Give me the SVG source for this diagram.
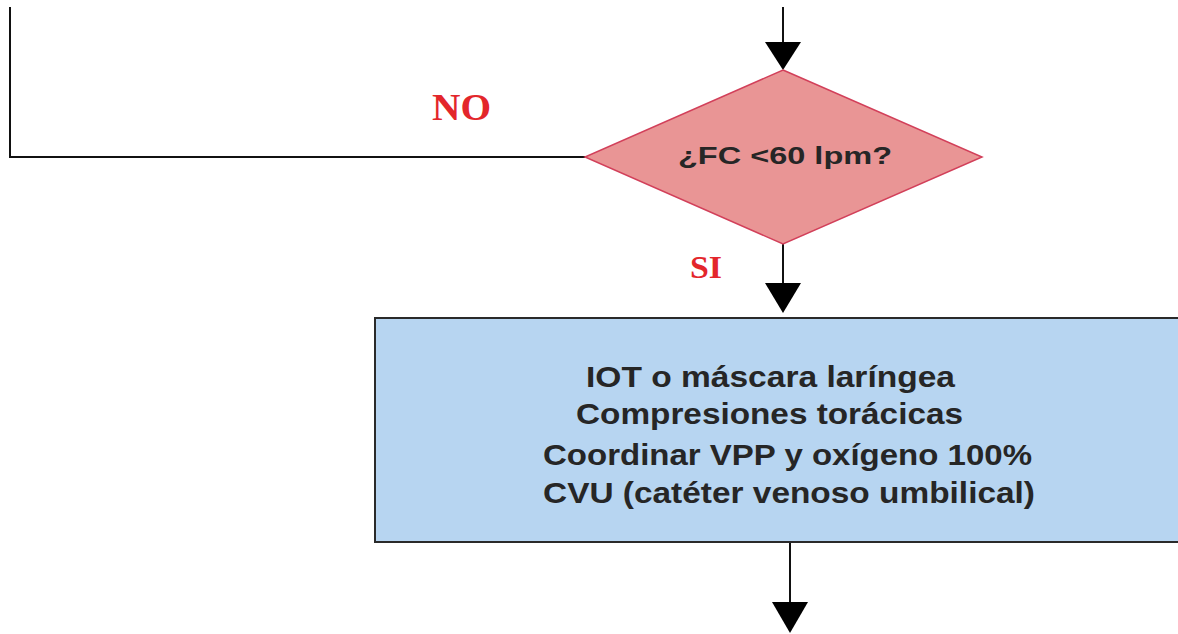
<svg xmlns="http://www.w3.org/2000/svg" width="1178" height="634" viewBox="0 0 1178 634">
<style>
.conn{stroke:#111;stroke-width:2;fill:none}
.head{fill:#000}
.lbl{font-family:"Liberation Serif","Times New Roman",serif;font-weight:bold;fill:#e3262b}
.txt{font-family:"Liberation Sans",Arial,sans-serif;font-weight:bold;fill:#262626}
</style>
<rect width="1178" height="634" fill="#ffffff"/>
<g id="connectors">
<line class="conn" x1="783" y1="7" x2="783" y2="44"/>
<polygon class="head" points="765,42 801,42 783,70"/>
<polyline class="conn" points="10,7 10,157 585,157"/>
<line class="conn" x1="783" y1="244" x2="783" y2="285"/>
<polygon class="head" points="765,283 801,283 783,313"/>
<line class="conn" x1="790" y1="543" x2="790" y2="604"/>
<polygon class="head" points="772,602 808,602 790,633"/>
</g>
<g id="label-no"><text class="lbl" x="432" y="120" font-size="38" textLength="59" lengthAdjust="spacingAndGlyphs">NO</text></g>
<g id="label-si"><text class="lbl" x="690" y="278" font-size="31" textLength="32" lengthAdjust="spacingAndGlyphs">SI</text></g>
<g id="decision">
<polygon points="783,70 982,157 783,244 585,157" fill="#e99595" stroke="#d2405a" stroke-width="1.5"/>
<text class="txt" x="678" y="164" font-size="24" textLength="214" lengthAdjust="spacingAndGlyphs">¿FC &lt;60 lpm?</text>
</g>
<g id="actions">
<rect x="375" y="318" width="820" height="224" fill="#b7d5f1" stroke="#2a2a2a" stroke-width="2"/>
<text class="txt" x="586" y="387" font-size="30" textLength="369" lengthAdjust="spacingAndGlyphs">IOT o máscara laríngea</text>
<text class="txt" x="576" y="424" font-size="30" textLength="387" lengthAdjust="spacingAndGlyphs">Compresiones torácicas</text>
<text class="txt" x="543" y="465" font-size="30" textLength="489" lengthAdjust="spacingAndGlyphs">Coordinar VPP y oxígeno 100%</text>
<text class="txt" x="543" y="503" font-size="30" textLength="492" lengthAdjust="spacingAndGlyphs">CVU (catéter venoso umbilical)</text>
</g>
</svg>
